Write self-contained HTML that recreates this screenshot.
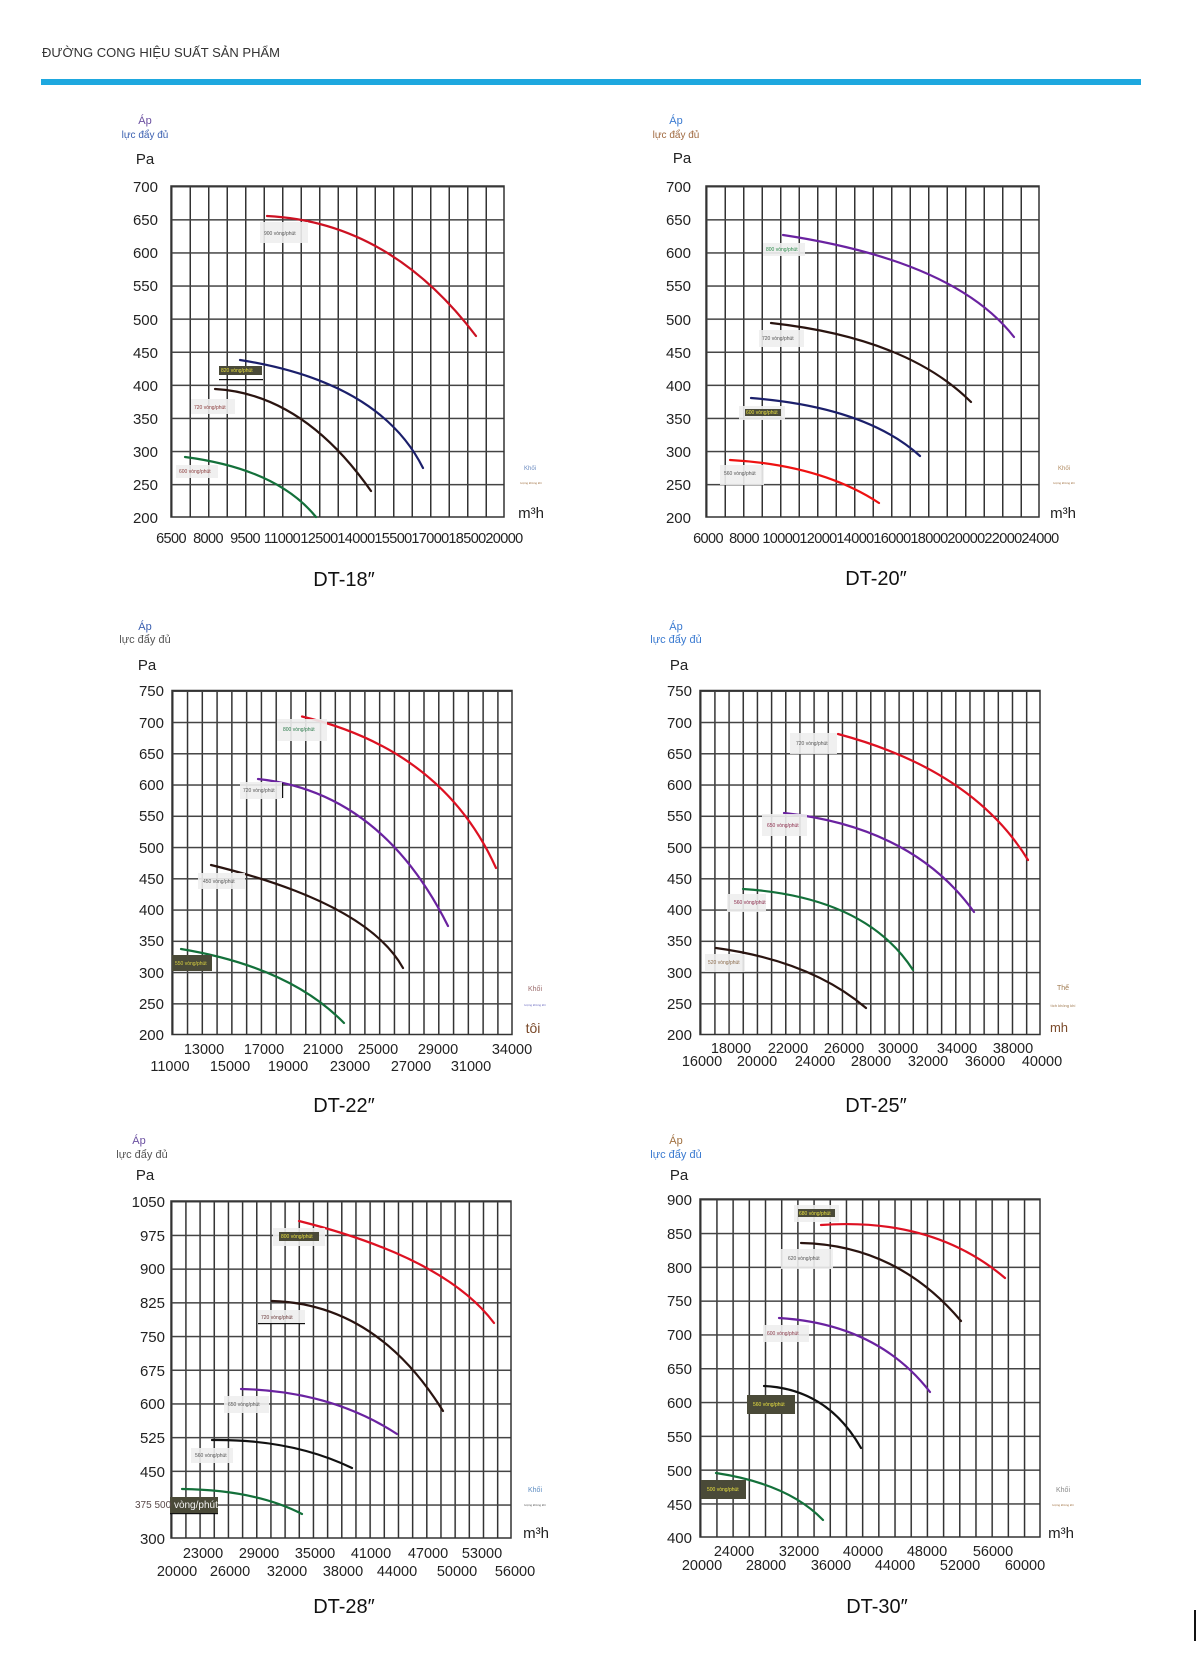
<!DOCTYPE html>
<html><head><meta charset="utf-8"><style>
html,body{margin:0;padding:0;background:#fff;}
svg{display:block;}
text{font-family:"Liberation Sans",sans-serif;}
.t{font-size:15px;fill:#222;}
.yl{font-size:15px;fill:#222;text-anchor:end;}
.xl{font-size:14.5px;fill:#222;text-anchor:middle;}
.ti{font-size:20px;fill:#111;text-anchor:middle;}
.sm{font-size:5px;fill:#555;}
.lb{fill:#eee;opacity:.9;}
.dk{fill:#4a4a38;}
.cv{fill:none;stroke-width:2.2;stroke-linecap:round;}
</style></head><body>
<svg width="1196" height="1670" viewBox="0 0 1196 1670" xmlns="http://www.w3.org/2000/svg">
<defs>
<pattern id="p1" patternUnits="userSpaceOnUse" x="171" y="186" width="18.5" height="33.1"><rect x="0" y="0" width="1.5" height="33.1" fill="#333"/><rect x="0" y="0" width="18.5" height="1.5" fill="#444"/></pattern>
<pattern id="p2" patternUnits="userSpaceOnUse" x="706" y="186" width="18.5" height="33.1"><rect x="0" y="0" width="1.5" height="33.1" fill="#333"/><rect x="0" y="0" width="18.5" height="1.5" fill="#444"/></pattern>
<pattern id="p3" patternUnits="userSpaceOnUse" x="172" y="690.5" width="14.78" height="31.26"><rect x="0" y="0" width="1.5" height="31.26" fill="#333"/><rect x="0" y="0" width="14.78" height="1.5" fill="#444"/></pattern>
<pattern id="p4" patternUnits="userSpaceOnUse" x="700" y="690.5" width="14.17" height="31.26"><rect x="0" y="0" width="1.5" height="31.26" fill="#333"/><rect x="0" y="0" width="14.17" height="1.5" fill="#444"/></pattern>
<pattern id="p5" patternUnits="userSpaceOnUse" x="171" y="1201" width="14.17" height="33.7"><rect x="0" y="0" width="1.5" height="33.7" fill="#333"/><rect x="0" y="0" width="14.17" height="1.5" fill="#444"/></pattern>
<pattern id="p6" patternUnits="userSpaceOnUse" x="700" y="1199" width="16.19" height="33.8"><rect x="0" y="0" width="1.5" height="33.8" fill="#333"/><rect x="0" y="0" width="16.19" height="1.5" fill="#444"/></pattern>
</defs>

<text x="42" y="57" style="font-size:13px;fill:#333;">ĐƯỜNG CONG HIỆU SUẤT SẢN PHẨM</text>
<rect x="41" y="79" width="1100" height="6" fill="#1ea8df"/>

<!-- ============ DT-18 ============ -->
<rect x="171" y="186" width="333" height="331" fill="url(#p1)"/>
<rect x="171" y="186" width="333" height="331" fill="none" stroke="#333" stroke-width="1.5"/>
<text x="145" y="124" style="font-size:11px;fill:#6a4fa0;" text-anchor="middle">Áp</text>
<text x="145" y="138" style="font-size:10px;fill:#3a5fb0;" text-anchor="middle">lực đẩy đủ</text>
<text x="145" y="164" class="t" text-anchor="middle">Pa</text>
<g class="yl"><text x="158" y="192">700</text><text x="158" y="225">650</text><text x="158" y="258">600</text><text x="158" y="291">550</text><text x="158" y="325">500</text><text x="158" y="358">450</text><text x="158" y="391">400</text><text x="158" y="424">350</text><text x="158" y="457">300</text><text x="158" y="490">250</text><text x="158" y="523">200</text></g>
<g class="xl" style="letter-spacing:-0.6px"><text x="171" y="543">6500</text><text x="208" y="543">8000</text><text x="245" y="543">9500</text><text x="282" y="543">11000</text><text x="319" y="543">12500</text><text x="356" y="543">14000</text><text x="393" y="543">15500</text><text x="430" y="543">17000</text><text x="467" y="543">18500</text><text x="504" y="543">20000</text></g>
<path class="cv" stroke="#cc1122" d="M267 216 Q390 222 476 336"/>
<path class="cv" stroke="#1b1f6b" d="M240 360 Q380 382 423 468"/>
<path class="cv" stroke="#2a1410" d="M215 389 Q303 394 371 491"/>
<path class="cv" stroke="#13703a" d="M185 457 Q277 469 316 517"/>
<rect class="lb" x="260" y="222" width="48" height="21"/><text class="sm" x="264" y="235">900 vòng/phút</text>
<rect class="dk" x="219" y="366" width="43" height="9"/><text class="sm" x="221" y="372" style="fill:#e8e040">820 vòng/phút</text>
<rect x="219" y="379" width="44" height="1.2" fill="#111"/>
<rect class="lb" x="191" y="399" width="44" height="15"/><text class="sm" x="194" y="409" style="fill:#8a3a3a">720 vòng/phút</text>
<rect class="lb" x="176" y="465" width="42" height="13"/><text class="sm" x="179" y="473" style="fill:#8a3a3a">600 vòng/phút</text>
<text x="530" y="470" style="font-size:6px;fill:#6a8ac0" text-anchor="middle">Khối</text>
<text x="531" y="484" style="font-size:3px;fill:#a07040" text-anchor="middle">lượng không khí</text>
<text x="531" y="518" class="t" text-anchor="middle">m³h</text>
<text x="344" y="586" class="ti">DT-18″</text>

<!-- ============ DT-20 ============ -->
<rect x="706" y="186" width="333" height="331" fill="url(#p2)"/>
<rect x="706" y="186" width="333" height="331" fill="none" stroke="#333" stroke-width="1.5"/>
<text x="676" y="124" style="font-size:11px;fill:#3a7ad0;" text-anchor="middle">Áp</text>
<text x="676" y="138" style="font-size:10px;fill:#a06a40;" text-anchor="middle">lực đẩy đủ</text>
<text x="682" y="163" class="t" text-anchor="middle">Pa</text>
<g class="yl"><text x="691" y="192">700</text><text x="691" y="225">650</text><text x="691" y="258">600</text><text x="691" y="291">550</text><text x="691" y="325">500</text><text x="691" y="358">450</text><text x="691" y="391">400</text><text x="691" y="424">350</text><text x="691" y="457">300</text><text x="691" y="490">250</text><text x="691" y="523">200</text></g>
<g class="xl" style="letter-spacing:-0.6px"><text x="708" y="543">6000</text><text x="744" y="543">8000</text><text x="781" y="543">10000</text><text x="818" y="543">12000</text><text x="855" y="543">14000</text><text x="892" y="543">16000</text><text x="929" y="543">18000</text><text x="966" y="543">20000</text><text x="1003" y="543">22000</text><text x="1040" y="543">24000</text></g>
<path class="cv" stroke="#6a22a0" d="M783 235 Q955 261 1014 337"/>
<path class="cv" stroke="#2a1410" d="M771 323 Q907 338 971 402"/>
<path class="cv" stroke="#1b1f6b" d="M751 398 Q866 407 920 456"/>
<path class="cv" stroke="#ee1111" d="M730 460 Q821 465 879 503"/>
<rect class="lb" x="763" y="243" width="42" height="13"/><text class="sm" x="766" y="251" style="fill:#2a8a4a">800 vòng/phút</text>
<rect class="lb" x="759" y="330" width="45" height="17"/><text class="sm" x="762" y="340">720 vòng/phút</text>
<rect class="lb" x="739" y="406" width="46" height="14"/><rect class="dk" x="745" y="409" width="36" height="7"/><text class="sm" x="746" y="414" style="fill:#e8e040">600 vòng/phút</text>
<rect class="lb" x="720" y="465" width="44" height="20"/><text class="sm" x="724" y="475">560 vòng/phút</text>
<text x="1064" y="470" style="font-size:6px;fill:#b08a60" text-anchor="middle">Khối</text>
<text x="1064" y="484" style="font-size:3px;fill:#a07040" text-anchor="middle">lượng không khí</text>
<text x="1063" y="518" class="t" text-anchor="middle">m³h</text>
<text x="876" y="585" class="ti">DT-20″</text>

<!-- ============ DT-22 ============ -->
<rect x="172" y="690.5" width="340" height="344" fill="url(#p3)"/>
<rect x="172" y="690.5" width="340" height="344" fill="none" stroke="#333" stroke-width="1.5"/>
<text x="145" y="630" style="font-size:11px;fill:#3a5fb0;" text-anchor="middle">Áp</text>
<text x="145" y="643" style="font-size:11px;fill:#555;" text-anchor="middle">lực đẩy đủ</text>
<text x="147" y="670" class="t" text-anchor="middle">Pa</text>
<g class="yl"><text x="164" y="696">750</text><text x="164" y="728">700</text><text x="164" y="759">650</text><text x="164" y="790">600</text><text x="164" y="821">550</text><text x="164" y="853">500</text><text x="164" y="884">450</text><text x="164" y="915">400</text><text x="164" y="946">350</text><text x="164" y="978">300</text><text x="164" y="1009">250</text><text x="164" y="1040">200</text></g>
<g class="xl"><text x="204" y="1054">13000</text><text x="264" y="1054">17000</text><text x="323" y="1054">21000</text><text x="378" y="1054">25000</text><text x="438" y="1054">29000</text><text x="512" y="1054">34000</text>
<text x="170" y="1071">11000</text><text x="230" y="1071">15000</text><text x="288" y="1071">19000</text><text x="350" y="1071">23000</text><text x="411" y="1071">27000</text><text x="471" y="1071">31000</text></g>
<path class="cv" stroke="#dd1122" d="M302 716.5 Q443 750 496 868"/>
<path class="cv" stroke="#6a22a0" d="M258 779 Q381 792 448 926"/>
<path class="cv" stroke="#2a1410" d="M211 865 Q367 903 403 968"/>
<path class="cv" stroke="#13703a" d="M181 949 Q289.5 967 344 1023"/>
<rect class="lb" x="277" y="719" width="50" height="22"/><text class="sm" x="283" y="731" style="fill:#2a7a4a">800 vòng/phút</text>
<rect class="lb" x="240" y="782" width="42" height="17"/><text class="sm" x="243" y="792">720 vòng/phút</text>
<rect x="282" y="783" width="1.2" height="15" fill="#111"/>
<rect class="lb" x="198" y="873" width="47" height="16"/><text class="sm" x="203" y="883">450 vòng/phút</text>
<rect class="dk" x="172" y="955" width="40" height="16"/><text class="sm" x="175" y="965" style="fill:#d8d040">550 vòng/phút</text>
<text x="535" y="991" style="font-size:7px;fill:#9a6a6a" text-anchor="middle">Khối</text>
<text x="535" y="1006" style="font-size:3px;fill:#6a6ac0" text-anchor="middle">lượng không khí</text>
<text x="533" y="1033" style="font-size:14px;fill:#7a4a2a" text-anchor="middle">tôi</text>
<text x="344" y="1112" class="ti">DT-22″</text>

<!-- ============ DT-25 ============ -->
<rect x="700" y="690.5" width="340" height="344" fill="url(#p4)"/>
<rect x="700" y="690.5" width="340" height="344" fill="none" stroke="#333" stroke-width="1.5"/>
<text x="676" y="630" style="font-size:11px;fill:#3a7ad0;" text-anchor="middle">Áp</text>
<text x="676" y="643" style="font-size:11px;fill:#3a7ad0;" text-anchor="middle">lực đẩy đủ</text>
<text x="679" y="670" class="t" text-anchor="middle">Pa</text>
<g class="yl"><text x="692" y="696">750</text><text x="692" y="728">700</text><text x="692" y="759">650</text><text x="692" y="790">600</text><text x="692" y="821">550</text><text x="692" y="853">500</text><text x="692" y="884">450</text><text x="692" y="915">400</text><text x="692" y="946">350</text><text x="692" y="978">300</text><text x="692" y="1009">250</text><text x="692" y="1040">200</text></g>
<g class="xl"><text x="731" y="1053">18000</text><text x="788" y="1053">22000</text><text x="844" y="1053">26000</text><text x="898" y="1053">30000</text><text x="957" y="1053">34000</text><text x="1013" y="1053">38000</text>
<text x="702" y="1066">16000</text><text x="757" y="1066">20000</text><text x="815" y="1066">24000</text><text x="871" y="1066">28000</text><text x="928" y="1066">32000</text><text x="985" y="1066">36000</text><text x="1042" y="1066">40000</text></g>
<path class="cv" stroke="#dd1122" d="M838 734 Q973 770 1028 860"/>
<path class="cv" stroke="#6a22a0" d="M784 813 Q913 827 974 912"/>
<path class="cv" stroke="#13703a" d="M743 889 Q866 897 913 970"/>
<path class="cv" stroke="#2a1410" d="M716 948 Q811 961 866 1008"/>
<rect class="lb" x="790" y="733" width="47" height="21"/><text class="sm" x="796" y="745">720 vòng/phút</text>
<rect class="lb" x="762" y="814" width="45" height="22"/><text class="sm" x="767" y="827" style="fill:#8a2a4a">650 vòng/phút</text>
<rect class="lb" x="727" y="894" width="39" height="18"/><text class="sm" x="734" y="904" style="fill:#8a2a4a">560 vòng/phút</text>
<rect class="lb" x="705" y="954" width="40" height="18"/><text class="sm" x="708" y="964" style="fill:#8a6a4a">520 vòng/phút</text>
<text x="1063" y="990" style="font-size:7px;fill:#a07a50" text-anchor="middle">Thể</text>
<text x="1063" y="1007" style="font-size:4px;fill:#a07a50" text-anchor="middle">tích không khí</text>
<text x="1059" y="1032" style="font-size:13px;fill:#7a4a2a" text-anchor="middle">mh</text>
<text x="876" y="1112" class="ti">DT-25″</text>

<!-- ============ DT-28 ============ -->
<rect x="171" y="1201" width="340" height="337" fill="url(#p5)"/>
<rect x="171" y="1201" width="340" height="337" fill="none" stroke="#333" stroke-width="1.5"/>
<text x="139" y="1144" style="font-size:11px;fill:#6a4fa0;" text-anchor="middle">Áp</text>
<text x="142" y="1158" style="font-size:11px;fill:#555;" text-anchor="middle">lực đẩy đủ</text>
<text x="145" y="1180" class="t" text-anchor="middle">Pa</text>
<g class="yl"><text x="165" y="1207">1050</text><text x="165" y="1241">975</text><text x="165" y="1274">900</text><text x="165" y="1308">825</text><text x="165" y="1342">750</text><text x="165" y="1376">675</text><text x="165" y="1409">600</text><text x="165" y="1443">525</text><text x="165" y="1477">450</text><text x="165" y="1544">300</text></g>
<g class="xl"><text x="203" y="1558">23000</text><text x="259" y="1558">29000</text><text x="315" y="1558">35000</text><text x="371" y="1558">41000</text><text x="428" y="1558">47000</text><text x="482" y="1558">53000</text>
<text x="177" y="1576">20000</text><text x="230" y="1576">26000</text><text x="287" y="1576">32000</text><text x="343" y="1576">38000</text><text x="397" y="1576">44000</text><text x="457" y="1576">50000</text><text x="515" y="1576">56000</text></g>
<path class="cv" stroke="#dd1122" d="M299 1221 Q445.5 1258 494 1323"/>
<path class="cv" stroke="#2a1410" d="M272 1301 Q376.5 1304 443 1411"/>
<path class="cv" stroke="#6a22a0" d="M241 1389 Q331 1391 397 1434"/>
<path class="cv" stroke="#111" d="M212 1440 Q292 1439 352 1468"/>
<path class="cv" stroke="#13703a" d="M182 1489 Q256 1490 302 1514"/>
<rect class="lb" x="273" y="1228" width="52" height="18"/><rect class="dk" x="279" y="1232" width="40" height="9"/><text class="sm" x="281" y="1238" style="fill:#e8e040">800 vòng/phút</text>
<rect class="lb" x="258" y="1310" width="47" height="14"/><text class="sm" x="261" y="1319" style="fill:#6a3a3a">720 vòng/phút</text>
<rect x="258" y="1323" width="47" height="1.2" fill="#111"/>
<rect class="lb" x="224" y="1396" width="45" height="17"/><text class="sm" x="228" y="1406">650 vòng/phút</text>
<rect class="lb" x="191" y="1448" width="42" height="15"/><text class="sm" x="195" y="1457">560 vòng/phút</text>
<rect class="dk" x="170" y="1497" width="48" height="16"/>
<text x="135" y="1508" style="font-size:10px;fill:#5a4a4a">375 500 <tspan style="fill:#f4f4f4">vòng/phút</tspan></text>
<rect x="170" y="1513" width="48" height="1.2" fill="#111"/>
<text x="535" y="1492" style="font-size:7px;fill:#5a8ac0" text-anchor="middle">Khối</text>
<text x="535" y="1506" style="font-size:3px;fill:#555" text-anchor="middle">lượng không khí</text>
<text x="536" y="1538" class="t" text-anchor="middle">m³h</text>
<text x="344" y="1613" class="ti">DT-28″</text>

<!-- ============ DT-30 ============ -->
<rect x="700" y="1199" width="340" height="338" fill="url(#p6)"/>
<rect x="700" y="1199" width="340" height="338" fill="none" stroke="#333" stroke-width="1.5"/>
<text x="676" y="1144" style="font-size:11px;fill:#a07040;" text-anchor="middle">Áp</text>
<text x="676" y="1158" style="font-size:11px;fill:#3a7ad0;" text-anchor="middle">lực đẩy đủ</text>
<text x="679" y="1180" class="t" text-anchor="middle">Pa</text>
<g class="yl"><text x="692" y="1205">900</text><text x="692" y="1239">850</text><text x="692" y="1273">800</text><text x="692" y="1306">750</text><text x="692" y="1340">700</text><text x="692" y="1374">650</text><text x="692" y="1408">600</text><text x="692" y="1442">550</text><text x="692" y="1476">500</text><text x="692" y="1510">450</text><text x="692" y="1543">400</text></g>
<g class="xl"><text x="734" y="1556">24000</text><text x="799" y="1556">32000</text><text x="863" y="1556">40000</text><text x="927" y="1556">48000</text><text x="993" y="1556">56000</text>
<text x="702" y="1570">20000</text><text x="766" y="1570">28000</text><text x="831" y="1570">36000</text><text x="895" y="1570">44000</text><text x="960" y="1570">52000</text><text x="1025" y="1570">60000</text></g>
<path class="cv" stroke="#dd1122" d="M821 1225 Q933 1217 1005 1278"/>
<path class="cv" stroke="#2a1410" d="M801 1243 Q897 1245 961 1321"/>
<path class="cv" stroke="#6a22a0" d="M779 1318 Q877.5 1324 930 1392"/>
<path class="cv" stroke="#111" d="M764 1386 Q827.5 1389 861 1448"/>
<path class="cv" stroke="#13703a" d="M716 1473 Q788.5 1484 823 1520"/>
<rect class="lb" x="794" y="1205" width="45" height="17"/><rect class="dk" x="798" y="1209" width="37" height="8"/><text class="sm" x="799" y="1215" style="fill:#e8e040">680 vòng/phút</text>
<rect class="lb" x="781" y="1249" width="52" height="20"/><text class="sm" x="788" y="1260">620 vòng/phút</text>
<rect class="lb" x="763" y="1325" width="46" height="17"/><text class="sm" x="767" y="1335" style="fill:#8a3a4a">600 vòng/phút</text>
<rect class="dk" x="747" y="1395" width="48" height="19"/><text class="sm" x="753" y="1406" style="fill:#e8e040">560 vòng/phút</text>
<rect class="dk" x="701" y="1480" width="45" height="19"/><text class="sm" x="707" y="1491" style="fill:#e8e040">500 vòng/phút</text>
<text x="1063" y="1492" style="font-size:7px;fill:#888" text-anchor="middle">Khối</text>
<text x="1063" y="1506" style="font-size:3px;fill:#a07040" text-anchor="middle">lượng không khí</text>
<text x="1061" y="1538" class="t" text-anchor="middle">m³h</text>
<text x="877" y="1613" class="ti">DT-30″</text>
<rect x="1194" y="1610" width="2" height="31" fill="#111"/>
</svg>
</body></html>
